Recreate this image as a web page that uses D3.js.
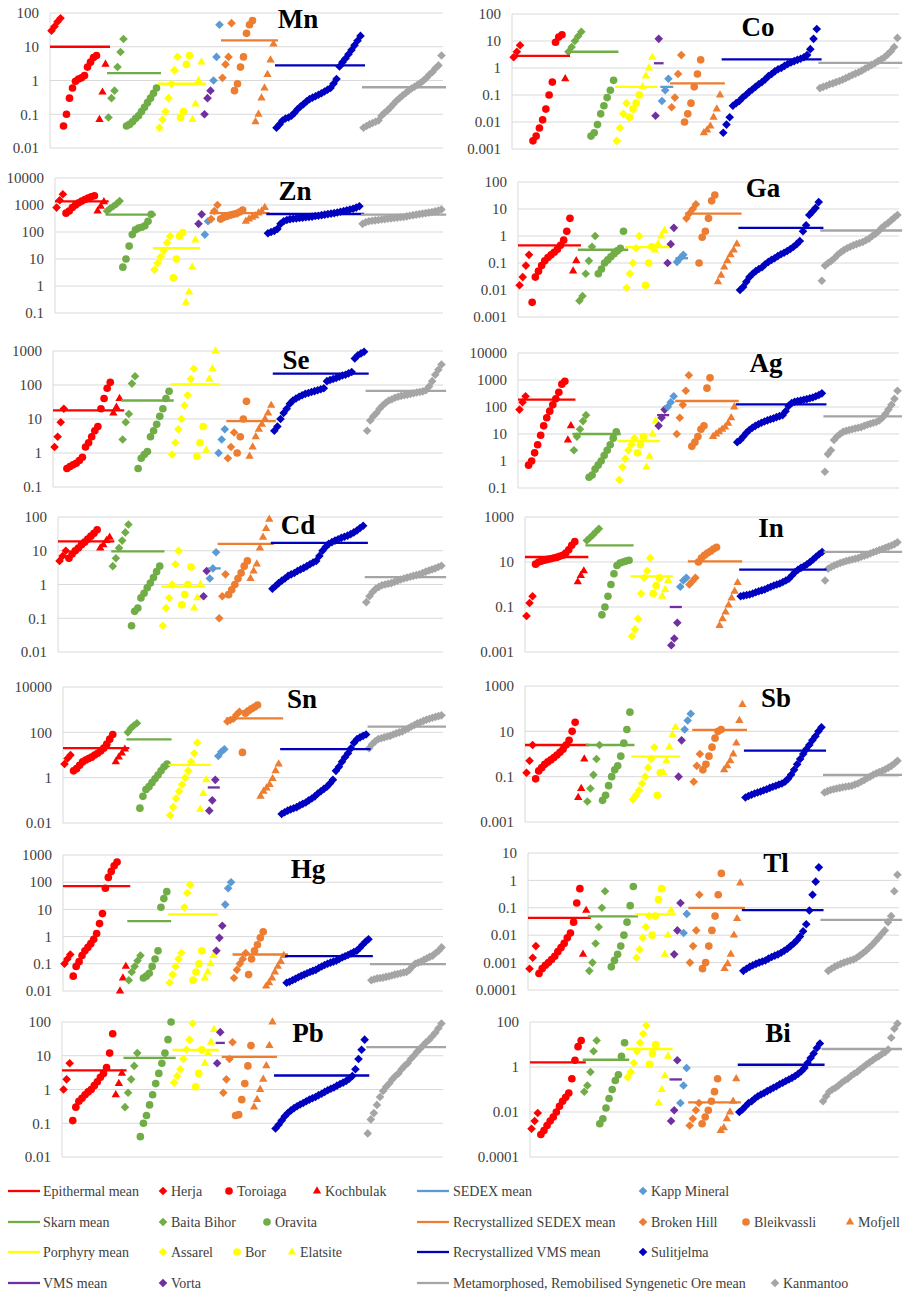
<!DOCTYPE html>
<html>
<head>
<meta charset="utf-8">
<script src="https://cdn.jsdelivr.net/npm/d3@7"></script>
<style>
  body { margin: 0; background: #fff; }
  svg { display: block; }
</style>
</head>
<body>
<svg id="chart" width="906" height="1292"></svg>
<script>
// deposits, in the order they sit along each panel
const deposits = ['Herja', 'Toroiaga', 'Kochbulak', 'Baita Bihor', 'Oravita', 'Assarel', 'Bor', 'Elatsite',
  'Vorta', 'Kapp Mineral', 'Broken Hill', 'Bleikvassli', 'Mofjell', 'Sulitjelma', 'Kanmantoo']
const depositType = [0, 0, 0, 1, 1, 2, 2, 2, 3, 4, 5, 5, 5, 6, 7]
const types = ['Epithermal mean', 'Skarn mean', 'Porphyry mean', 'VMS mean', 'SEDEX mean',
  'Recrystallized SEDEX mean', 'Recrystallized VMS mean', 'Metamorphosed, Remobilised Syngenetic Ore mean']

// one array per deposit (sorted samples, null = not detected), then the type means, then the axis ticks
const mnValues = [[30,40,55,70],[0.045,0.1,0.3,0.6,0.95,1.1,1.2,1.4,2.5,3.5,4.8,5.5],[0.07,0.45,3],
  [0.08,0.3,0.5,2.5,7,17],[0.045,0.05,0.06,0.075,0.09,0.12,0.16,0.22,0.3,0.42,0.6],
  [0.04,0.07,0.12,0.3,0.8,2,5],[0.08,0.12,3,5.5],[0.07,0.2,1,3.5],[0.1,0.3,0.5],[1,5,45],
  [1.2,3,5,50],[0.5,0.8,2.5,5,25,45,60],[0.06,0.1,0.3,0.6,1.5,4,12],
  [0.04,0.05,0.065,0.075,0.08,0.09,0.11,0.14,0.17,0.2,0.24,0.28,0.31,0.34,0.38,0.42,0.47,0.53,0.6,0.8,1.1,2.6,3.5,4.5,6,8,11,15,21],
  [0.04,0.045,0.05,0.055,0.06,0.065,0.09,0.11,0.13,0.16,0.2,0.25,0.3,0.36,0.42,0.5,0.58,0.65,0.75,0.85,1,1.2,1.5,1.8,2.3,2.8,5.5]]
const mnMeans = [10, 1.65, 0.8, null, null, 15.5, 2.8, 0.63]
const mnTicks = [0.01, 0.1, 1, 10, 100]

const coValues = [[2.5,4,7],[null,null,null,0.002,0.003,0.006,0.012,0.03,0.1,0.3,9,14,17],[0.4],
  [4,6,10,15,22],[null,null,0.003,0.004,0.008,0.02,0.04,0.08,0.15,0.35],
  [0.002,0.006,0.02,0.05],[0.015,0.03,0.05,0.1],[0.2,0.5,1,2.5],[0.017,12],[0.06,0.15,0.4],
  [0.035,0.08,0.6,3],[0.01,0.02,0.05,0.2,0.6,2],[0.004,0.005,0.007,0.015,0.03,0.1],
  [0.004,0.008,0.015,0.04,0.05,0.06,0.08,0.1,0.13,0.16,0.2,0.25,0.3,0.38,0.5,0.6,0.75,0.9,1,1.2,1.4,1.6,1.8,2,2.2,2.5,3,5,12,28],
  [0.18,0.2,0.22,0.25,0.27,0.3,0.33,0.37,0.42,0.48,0.55,0.62,0.7,0.8,0.95,1.1,1.3,1.5,1.8,2.1,2.5,3.2,4.2,6,13]]
const coMeans = [2.8, 4, 0.2, 1.5, 0.2, 0.27, 2.1, 1.56]
const coTicks = [0.001, 0.01, 0.1, 1, 10, 100]

const znValues = [[800,1500,2500],[500,600,800,1000,1200,1400,1600,1800,2000,2200],[600,900,1300],
  [600,750,900,1100,1400],[5,10,30,80,120,140,150,170,250,450],
  [4,7,12,20,40,70],[2,10,70,95],[0.25,0.6,5,50],[200,450],[80,250],
  [300,600,1000],[300,350,380,420,450,480,550,650],[250,300,350,400,500,600,800],
  [90,100,110,130,200,250,280,300,310,320,330,340,350,360,370,390,400,420,440,460,480,500,530,560,600,640,680,730,800,900],
  [200,230,250,260,270,280,290,300,310,320,330,340,350,360,380,400,420,440,460,480,500,520,550,580,620,680]]
const znMeans = [1370, 440, 25, null, null, 500, 464, 440]
const znTicks = [0.1, 1, 10, 100, 1000, 10000]

const gaValues = [[0.015,0.03,0.08,0.2],[0.0035,0.03,0.05,0.08,0.12,0.16,0.2,0.25,0.32,0.45,0.7,1.5,4.5],[0.05,0.12],
  [0.004,0.006,0.04,0.12,0.4,1],[0.04,0.06,0.1,0.13,0.17,0.22,0.28,0.35,1.5],
  [0.012,0.04,0.1,0.35,1],[null,0.015,0.1,0.4],[0.3,0.5,1,1.6],[0.1,0.5,2],[0.11,0.15,0.2],
  [4.5,7,10,15],[0.1,0.9,1.5,4.5,20,33],[0.02,0.035,0.07,0.12,0.2,0.3,0.5],
  [0.01,0.013,0.02,0.03,0.04,0.05,0.06,0.07,0.09,0.11,0.13,0.15,0.18,0.21,0.24,0.28,0.33,0.4,0.5,0.65,1.5,2.5,6,8,11,18],
  [0.022,0.08,0.1,0.12,0.15,0.2,0.25,0.3,0.35,0.4,0.45,0.5,0.55,0.6,0.7,0.8,1,1.2,1.5,2,2.5,3,3.8,4.8,6]]
const gaMeans = [0.45, 0.31, 0.39, null, 0.15, 6.7, 2.0, 1.6]
const gaTicks = [0.001, 0.01, 0.1, 1, 10, 100]

const seValues = [[1.5,3,8,20],[0.35,0.4,0.45,0.5,0.6,0.75,1.5,2,3,4.5,6,20,40,80,120],[15,22,40],
  [2.5,8,14,110,180],[0.35,0.7,0.9,1.1,3,4.5,7,12,20,40,65],
  [0.9,2,5,10,25,50,150,300],[0.8,2,6],[1.2,150,300,1000],[],[1,2.5,5],
  [0.7,1.5,4],[1,3,10,33],[0.8,1.5,3,5,7,10,15,25],
  [4.5,6,10,15,20,28,35,40,45,50,55,58,62,66,70,75,80,130,140,150,160,175,190,200,220,240,600,750,850,950],
  [4.5,9,12,15,20,25,30,35,38,42,45,48,50,52,55,57,60,62,65,70,90,130,200,280,400]]
const seMeans = [18, 35, 105, null, null, 8.7, 215, 67]
const seTicks = [0.1, 1, 10, 100, 1000]

const agValues = [[80,150,250],[0.7,1,2,4,9,20,40,70,120,200,350,700,900],[6,20],
  [2.5,8,15,30,50],[0.25,0.3,0.5,0.7,1,1.6,2.5,4,7,12],
  [0.2,0.6,1.2,2.5,4,7],[2,4,8],[0.6,1.5,10,30],[20,40,80],[100,150,250],
  [10,40,120,400,1500],[3.5,5,8,15,20,500,1200],[8,10,12,15,18,25,40,100],
  [5,6,8,11,14,17,20,23,26,29,32,35,38,42,46,50,70,110,140,155,165,175,185,195,210,225,250,280,320],
  [0.4,1.8,2.5,6,8,10,12,13,14,15,16,17,18,20,22,24,26,28,32,40,55,80,120,200,400]]
const agMeans = [187, 10, 5.5, 50, null, 167, 126, 45]
const agTicks = [0.1, 1, 10, 100, 1000, 10000]

const cdValues = [[5,7,10],[6,8,10,12,15,18,22,27,33,42],[12,15,20,25],
  [3.5,6,12,20,35,60],[0.06,0.16,0.2,0.4,0.55,0.8,1.1,1.6,2.4,3.5],
  [0.06,0.2,0.4,1,4,10],[0.25,0.5,1,3.3],[0.2,0.4,1],[0.45,2.5],[1.5,3,9],
  [0.1,0.45,2],[0.5,0.7,1,1.5,2.2,3.5,5],[1.5,2.5,4,12,25,45,85],
  [0.75,0.9,1.1,1.3,1.5,1.8,2,2.2,2.5,2.8,3.1,3.5,4,4.5,5,7,10,13,16,18,20,22,24,26,28,31,35,40,47,55],
  [0.3,0.45,0.6,0.75,0.85,0.95,1,1.05,1.1,1.2,1.3,1.4,1.5,1.6,1.7,1.8,1.9,2,2.2,2.4,2.6,2.8,3,3.3,3.6]]
const cdMeans = [19, 9.6, 0.87, null, 3, 16, 17, 1.65]
const cdTicks = [0.01, 0.1, 1, 10, 100]

const inValues = [[0.04,0.15,0.3],[8,10,11,12,13,14,15,16,18,20,25,35,55,80],[1.3,2.5,4],
  [90,120,160,220,300],[0.045,0.1,0.3,1,3,7,9,10,11,12],
  [0.005,0.01,0.03,0.4,2,4,15],[0.4,0.9,2],[0.3,0.6,1.5],[0.002,0.004,0.02],[0.8,1.5,2],
  [1,1.4,2],[10,15,20,25,30,38,45],[0.015,0.03,0.06,0.12,0.25,0.5,1.2],
  [0.3,0.32,0.34,0.36,0.4,0.45,0.5,0.55,0.6,0.7,0.8,0.9,1,1.1,1.3,1.5,1.8,2.5,3.5,4.5,5.5,6.5,8,10,13,17,22,28],
  [1.5,5,6,7,8,9,10,11,12,13,14,15,17,19,21,24,27,30,34,38,43,48,54,62,75]]
const inMeans = [16.7, 55, 2.3, 0.1, null, 10.7, 4.6, 28]
const inTicks = [0.001, 0.1, 10, 1000]

const snValues = [[4,7,10],[2,2.5,3.5,5,6,7,8,10,12,15,20,30,50,80],[5,8,12,18],
  [100,150,200,250],[0.045,0.15,0.3,0.4,0.6,0.9,1.3,2,3,4],
  [0.022,0.05,0.12,0.25,0.5,1,2,5,12,35],[],[0.04,0.2,0.8],[0.035,0.1,0.8],[9,14,18],
  [300,350,400,600,800],[13,700,900,1100,1300,1600],[0.15,0.25,0.35,0.5,0.9,2,4],
  [0.025,0.03,0.035,0.04,0.045,0.05,0.06,0.07,0.08,0.1,0.12,0.15,0.2,0.25,0.32,0.4,0.55,0.8,2,3,5,8,12,20,35,50,60,70,80],
  [20,30,40,50,55,60,65,70,80,90,100,110,130,150,180,210,250,280,320,360,400,440,480,520,560]]
const snMeans = [20, 49, 3.7, 0.37, null, 410, 18, 178]
const snTicks = [0.01, 1, 100, 10000]

const sbValues = [[0.15,0.5,2.5],[0.08,0.18,0.25,0.35,0.45,0.55,0.7,0.9,1.2,1.6,2.5,4,10,25],[0.012,0.03,0.6],
  [0.008,0.03,0.12,0.6,2.5],[0.009,0.015,0.04,0.1,0.2,0.3,0.8,3,12,70],
  [0.01,0.015,0.025,0.05,0.1,0.25,0.6,2],[0.015,0.15],[0.15,0.5,2,7,15],[0.1,4],[12,30,60],
  [0.06,0.3,1],[0.2,0.35,0.8,2,5,10,12],[0.2,0.3,0.5,1,3,30,150],
  [0.012,0.014,0.016,0.018,0.02,0.022,0.025,0.028,0.032,0.036,0.04,0.045,0.05,0.06,0.08,0.12,0.2,0.35,0.6,1,1.6,2.5,4,6,10,15],
  [0.02,0.023,0.026,0.028,0.03,0.032,0.034,0.036,0.038,0.04,0.045,0.05,0.06,0.07,0.085,0.1,0.12,0.14,0.16,0.18,0.21,0.25,0.3,0.38,0.5]]
const sbMeans = [2.5, 2.5, 0.77, null, null, 11.5, 1.4, 0.12]
const sbTicks = [0.001, 0.1, 10, 1000]

const hgValues = [[0.1,0.15,0.22],[0.035,0.08,0.12,0.2,0.3,0.4,0.55,0.8,1.3,3,7,60,150,250,400,550],[0.01,0.03,0.08],
  [0.025,0.05,0.08,0.13,0.2],[0.03,0.035,0.045,0.08,0.15,0.3,12,25,45],
  [0.02,0.04,0.08,0.15,0.25,12,40,80],[0.025,0.05,0.1,0.3],[0.03,0.05,0.1,0.2],[0.3,0.9,2.5],[15,60,100],
  [0.03,0.06,0.1,0.15,0.25],[0.04,0.15,0.3,0.5,0.9,1.5],[0.015,0.02,0.03,0.05,0.08,0.12,0.2],
  [0.02,0.022,0.025,0.028,0.032,0.036,0.04,0.045,0.05,0.055,0.06,0.07,0.08,0.09,0.1,0.11,0.12,0.13,0.15,0.17,0.19,0.21,0.24,0.27,0.3,0.38,0.5,0.65,0.8],
  [0.025,0.027,0.029,0.03,0.031,0.033,0.035,0.037,0.04,0.042,0.045,0.048,0.05,0.06,0.08,0.1,0.11,0.12,0.14,0.16,0.18,0.2,0.25,0.3,0.4]]
const hgMeans = [72, 3.7, 6.5, null, null, 0.22, 0.19, 0.097]
const hgTicks = [0.01, 0.1, 1, 10, 100, 1000]

const tlValues = [[0.0006,0.0015,0.004],[0.0004,0.0006,0.0008,0.001,0.0013,0.0017,0.0025,0.0035,0.005,0.008,0.012,0.03,0.15,0.5],[0.002,0.08],
  [0.0005,0.001,0.005,0.02,0.1,0.4],[null,0.0007,0.0012,0.002,0.004,0.01,0.03,0.12,0.6],
  [0.0015,0.003,0.008,0.02,0.05],[0.01,0.05,0.2,0.5],[0.002,0.01,0.08],[0.002,0.015,0.15],[0.012,0.06],
  [0.001,0.004,0.015,0.3],[0.0006,0.001,0.004,0.015,0.05,0.3,1.8],[0.0006,0.0009,0.002,0.01,0.04,0.8],
  [0.0005,0.0006,0.0007,0.0008,0.0009,0.001,0.0011,0.0012,0.0014,0.0016,0.0018,0.002,0.0023,0.0027,0.0032,0.004,0.005,0.0065,0.009,0.014,0.025,0.08,0.3,0.9,3],
  [null,null,0.0005,0.0006,0.0007,0.0008,0.0009,0.001,0.0011,0.0012,0.0013,0.0015,0.0018,0.0022,0.0027,0.0035,0.0045,0.006,0.008,0.011,0.015,0.03,0.05,0.4,1.6]]
const tlMeans = [0.043, 0.049, 0.058, null, null, 0.1, 0.082, 0.036]
const tlTicks = [0.0001, 0.001, 0.01, 0.1, 1, 10]

const pbValues = [[1,2,6],[0.12,0.3,0.45,0.55,0.7,0.85,1,1.3,1.7,2.3,3,4.5,12,45],[0.7,1.5,3],
  [0.3,0.8,2,5,12],[0.04,0.1,0.17,0.35,0.7,1.5,3,6,12,30,100],
  [1.6,2.5,4,8,15,30,90],[1.2,3,15],[6,12,25,60],[6,50],[],
  [0.8,2,8,25],[0.17,0.18,0.5,1.5,5,20],[0.3,0.5,1,2,5,20,100],
  [0.07,0.09,0.12,0.16,0.2,0.24,0.28,0.32,0.36,0.4,0.45,0.5,0.55,0.6,0.68,0.75,0.85,0.95,1.05,1.15,1.3,1.45,1.6,1.8,2.1,2.5,4,8,15,30],
  [0.05,0.13,0.2,0.35,0.6,0.9,1.2,1.5,2,2.5,3,4,5,6,8,10,13,16,20,25,30,38,48,65,90]]
const pbMeans = [3.7, 8.6, 15, 24, null, 9.2, 2.6, 18]
const pbTicks = [0.01, 0.1, 1, 10, 100]

const biValues = [[0.0018,0.004,0.009],[0.001,0.0015,0.0025,0.004,0.006,0.01,0.018,0.03,0.045,0.07,0.3,2,8,15],[],
  [0.08,0.15,0.6,5,15],[0.003,0.005,0.015,0.04,0.1,0.25,0.45,3,12],
  [0.35,0.6,1.5,5,12,30,70],[1.3,4,10],[0.025,0.1,0.4,3],[0.004,0.012,2],[0.025,0.15,0.9],
  [0.0025,0.005,0.012,0.025],[0.003,0.006,0.012,0.03,0.08,0.3],[0.0015,0.002,0.005,0.01,0.03,0.3],
  [0.01,0.013,0.018,0.025,0.03,0.04,0.05,0.06,0.07,0.085,0.1,0.12,0.14,0.17,0.2,0.24,0.28,0.33,0.4,0.5,0.65,0.9,1.5,2.5,4,7,11],
  [0.03,0.05,0.08,0.1,0.12,0.15,0.2,0.25,0.3,0.4,0.5,0.6,0.8,1,1.3,1.6,2,2.5,3,3.8,4.5,6,20,50,85]]
const biMeans = [1.6, 2.1, 6.3, 0.28, null, 0.027, 1.26, 6.3]
const biTicks = [0.0001, 0.01, 1, 100]

const elementData = {
  Mn: [mnValues, mnMeans, mnTicks], Co: [coValues, coMeans, coTicks],
  Zn: [znValues, znMeans, znTicks], Ga: [gaValues, gaMeans, gaTicks],
  Se: [seValues, seMeans, seTicks], Ag: [agValues, agMeans, agTicks],
  Cd: [cdValues, cdMeans, cdTicks], In: [inValues, inMeans, inTicks],
  Sn: [snValues, snMeans, snTicks], Sb: [sbValues, sbMeans, sbTicks],
  Hg: [hgValues, hgMeans, hgTicks], Tl: [tlValues, tlMeans, tlTicks],
  Pb: [pbValues, pbMeans, pbTicks], Bi: [biValues, biMeans, biTicks]
}

// ---- styling / layout ----
const typeColor = ['#FF0000', '#70AD47', '#FFFF00', '#7030A0', '#5B9BD5', '#ED7D31', '#0000C0', '#A5A5A5']
const depositShape = ['diamond', 'circle', 'triangle', 'diamond', 'circle', 'diamond', 'circle', 'triangle',
  'diamond', 'diamond', 'diamond', 'circle', 'triangle', 'diamond', 'diamond']

const panels = [
  { el: 'Mn', left: 50,  right: 443, top: 13,  bottom: 148,  tx: 298, ty: 28 },
  { el: 'Co', left: 512, right: 899, top: 14,  bottom: 149,  tx: 758, ty: 36 },
  { el: 'Zn', left: 55,  right: 443, top: 178, bottom: 313,  tx: 295, ty: 200 },
  { el: 'Ga', left: 518, right: 899, top: 182, bottom: 317,  tx: 763, ty: 197 },
  { el: 'Se', left: 53,  right: 443, top: 351, bottom: 487,  tx: 296, ty: 369 },
  { el: 'Ag', left: 518, right: 899, top: 353, bottom: 488,  tx: 766, ty: 372 },
  { el: 'Cd', left: 58,  right: 443, top: 517, bottom: 652,  tx: 298, ty: 534 },
  { el: 'In', left: 525, right: 899, top: 517, bottom: 652,  tx: 771, ty: 537 },
  { el: 'Sn', left: 63,  right: 443, top: 687, bottom: 823,  tx: 302, ty: 708 },
  { el: 'Sb', left: 525, right: 899, top: 686, bottom: 822,  tx: 776, ty: 707 },
  { el: 'Hg', left: 63,  right: 443, top: 855, bottom: 991,  tx: 308, ty: 878 },
  { el: 'Tl', left: 528, right: 899, top: 853, bottom: 990,  tx: 776, ty: 872 },
  { el: 'Pb', left: 62,  right: 443, top: 1022, bottom: 1157, tx: 308, ty: 1042 },
  { el: 'Bi', left: 530, right: 899, top: 1022, bottom: 1157, tx: 778, ty: 1042 }
]

const serif = '"Liberation Serif", "Times New Roman", serif'
const textGrey = '#404040'
const gridGrey = '#D9D9D9'

const markerPath = {
  diamond: 'M0,-4.3L4.3,0L0,4.3L-4.3,0Z',
  circle: d3.symbol(d3.symbolCircle, 46)(),
  triangle: d3.symbol(d3.symbolTriangle, 30)()
}

const svg = d3.select('#chart')

panels.forEach(p => {
  const [values, means, ticks] = elementData[p.el]
  const total = d3.sum(values, s => s.length)

  const x = d3.scaleLinear().domain([0, total]).range([p.left, p.right])
  const y = d3.scaleLog().domain(d3.extent(ticks)).range([p.bottom, p.top])

  const g = svg.append('g').attr('class', 'panel')

  g.selectAll('line.grid')
    .data(ticks)
    .join('line')
      .attr('class', 'grid')
      .attr('x1', p.left).attr('x2', p.right)
      .attr('y1', d => y(d)).attr('y2', d => y(d))
      .attr('stroke', gridGrey).attr('stroke-width', 1)

  g.append('line')
    .attr('x1', p.left).attr('x2', p.left)
    .attr('y1', p.top).attr('y2', p.bottom)
    .attr('stroke', gridGrey)

  g.selectAll('text.tick')
    .data(ticks)
    .join('text')
      .attr('class', 'tick')
      .attr('x', p.left - 11)
      .attr('y', d => y(d))
      .attr('dy', '0.35em')
      .attr('text-anchor', 'end')
      .style('font-family', serif)
      .style('font-size', '15px')
      .style('fill', textGrey)
      .text(d => String(d))

  // points, one series per deposit, laid end to end along the sample index
  let start = 0
  const spans = []
  values.forEach((vals, k) => {
    const pts = vals.map((v, i) => ({ v, i: start + i })).filter(d => d.v != null)
    g.append('g')
      .selectAll('path')
      .data(pts)
      .join('path')
        .attr('d', markerPath[depositShape[k]])
        .attr('transform', d => `translate(${x(d.i + 0.5)},${y(d.v)})`)
        .style('fill', typeColor[depositType[k]])
    spans.push([start, start + vals.length])
    start += vals.length
  })

  // mean line for each deposit type, across that type's samples
  means.forEach((m, t) => {
    if (m == null) return
    const ks = d3.range(deposits.length).filter(k => depositType[k] === t)
    const s0 = d3.min(ks, k => spans[k][0])
    const s1 = d3.max(ks, k => spans[k][1])
    g.append('line')
      .attr('x1', x(s0)).attr('x2', x(s1 + 1))
      .attr('y1', y(m)).attr('y2', y(m))
      .attr('stroke', typeColor[t])
      .attr('stroke-width', 2.3)
  })

  g.append('text')
    .attr('x', p.tx).attr('y', p.ty)
    .attr('text-anchor', 'middle')
    .style('font-family', serif)
    .style('font-size', '27px')
    .style('font-weight', 'bold')
    .style('fill', '#000')
    .text(p.el)
})

// legend
const legendRowsY = [1191, 1222, 1252, 1283]
const legendBlocks = [
  { lineX: 8,   textX: 43,  rows: [[0, [0, 1, 2], [163, 229, 317]], [1, [3, 4], [163, 267]], [2, [5, 6, 7], [163, 237, 292]], [3, [8], [163]]] },
  { lineX: 417, textX: 453, rows: [[4, [9], [643]], [5, [10, 11, 12], [643, 746, 850]], [6, [13], [643]], [7, [14], [775]]] }
]

const legend = svg.append('g').attr('class', 'legend')
legendBlocks.forEach(b => {
  b.rows.forEach(([t, ks, xs], r) => {
    const ly = legendRowsY[r]
    legend.append('line')
      .attr('x1', b.lineX).attr('x2', b.lineX + 32)
      .attr('y1', ly).attr('y2', ly)
      .attr('stroke', typeColor[t]).attr('stroke-width', 2.3)
    legend.append('text')
      .attr('x', b.textX).attr('y', ly).attr('dy', '0.35em')
      .style('font-family', serif).style('font-size', '14px').style('fill', textGrey)
      .text(types[t])
    ks.forEach((k, j) => {
      legend.append('path')
        .attr('d', markerPath[depositShape[k]])
        .attr('transform', `translate(${xs[j]},${ly})`)
        .style('fill', typeColor[depositType[k]])
      legend.append('text')
        .attr('x', xs[j] + 8).attr('y', ly).attr('dy', '0.35em')
        .style('font-family', serif).style('font-size', '14px').style('fill', textGrey)
        .text(deposits[k])
    })
  })
})
</script>
</body>
</html>
